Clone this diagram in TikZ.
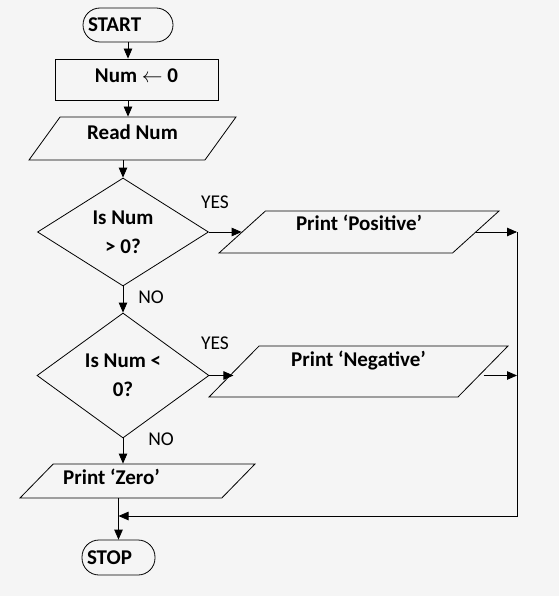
\documentclass[tikz,border=0pt]{standalone}
\usepackage{fontspec}
\setmainfont{Carlito}
\usetikzlibrary{shapes.geometric,arrows.meta}
\definecolor{bgpaper}{RGB}{245,245,245}
\tikzset{
  boxfont/.style={font=\bfseries\fontsize{21}{25}\selectfont},
  term/.style={draw, boxfont, rounded corners=17pt, minimum height=34pt, inner xsep=5pt, align=left},
  procbox/.style={draw, boxfont, rectangle, inner sep=2pt, text height=14pt},
  iobox/.style={draw, boxfont, trapezium, trapezium stretches body=true, inner sep=2pt, text height=14pt},
  lean/.style={trapezium left angle=#1, trapezium right angle=180-#1},
  decision/.style={draw, diamond, aspect=1.58, inner sep=0pt, align=center, font=\bfseries\fontsize{21}{29}\selectfont},
  lbl/.style={font=\fontsize{19.5}{22}\selectfont, inner sep=0pt}
}
\begin{document}
\begin{tikzpicture}[x=1pt, y=-1pt, >={Triangle[length=10pt,width=8.5pt]}, line width=0.8pt]
        \fill[bgpaper] (0,0) rectangle (559,596); % sfondo

        % blocchi
        \node[term, text width=80pt] (start) at (128,25) {START};
        \node[procbox, minimum width=163pt, minimum height=41pt, text depth=8pt] (num) at (136.5,79.5) {Num $\leftarrow$ 0};
        \node[iobox, lean=44, minimum width=207pt, minimum height=43pt, text depth=12pt] (read) at (132.5,138.5) {Read Num};
        \node[decision, minimum width=171pt, minimum height=108pt] (d1) at (123,232) {Is Num\\> 0?};
        \node[iobox, lean=37, minimum width=280pt, minimum height=42pt, text depth=17pt] (pos) at (359,232) {Print ‘Positive’};
        \node[decision, minimum width=172pt, minimum height=125pt] (d2) at (123,375.5) {Is Num <\\0?};
        \node[iobox, lean=40, minimum width=299pt, minimum height=51pt, text depth=24pt] (neg) at (358.5,371.5) {Print ‘Negative’};
        \node[iobox, lean=37, minimum width=235pt, minimum height=34pt, text depth=7pt] (zero) at (137.5,481) {Print ‘Zero’\hspace*{52pt}};
        \node[term, text width=63pt, minimum height=35pt] (stop) at (118.5,557.5) {STOP};

        % etichette
        \node[lbl] (yes1) at (215,202) {YES};
        \node[lbl] (no1) at (151,297) {NO};
        \node[lbl] (yes2) at (215,343) {YES};
        \node[lbl] (no2) at (161,439) {NO};

        \coordinate (rt) at (517,232); % linea di ritorno
        \coordinate (jn) at (118.5,516);

        % frecce
        \draw[->] (start.south) -- (start.south |- num.north);
        \draw[->] (start.south |- num.south) -- (start.south |- read.top side);
        \draw[->] (d1.north |- read.bottom side) -- (d1.north);
        \draw[->] (d1.east) -- (pos.left side);
        \draw[->] (pos.right side) -- (rt);
        \draw[->] (d1.south) -- (d2.north);
        \draw[->] (d2.east) -- (d2.east -| neg.left side);
        \draw[->] (neg.right side |- d2.east) -- (rt |- d2.east);
        \draw[->] (d2.south) -- (d2.south |- zero.top side);
        \draw[->] (rt) |- (jn);
        \draw[->] (stop.north |- zero.bottom side) -- (stop.north);
    \end{tikzpicture}
\end{document}
